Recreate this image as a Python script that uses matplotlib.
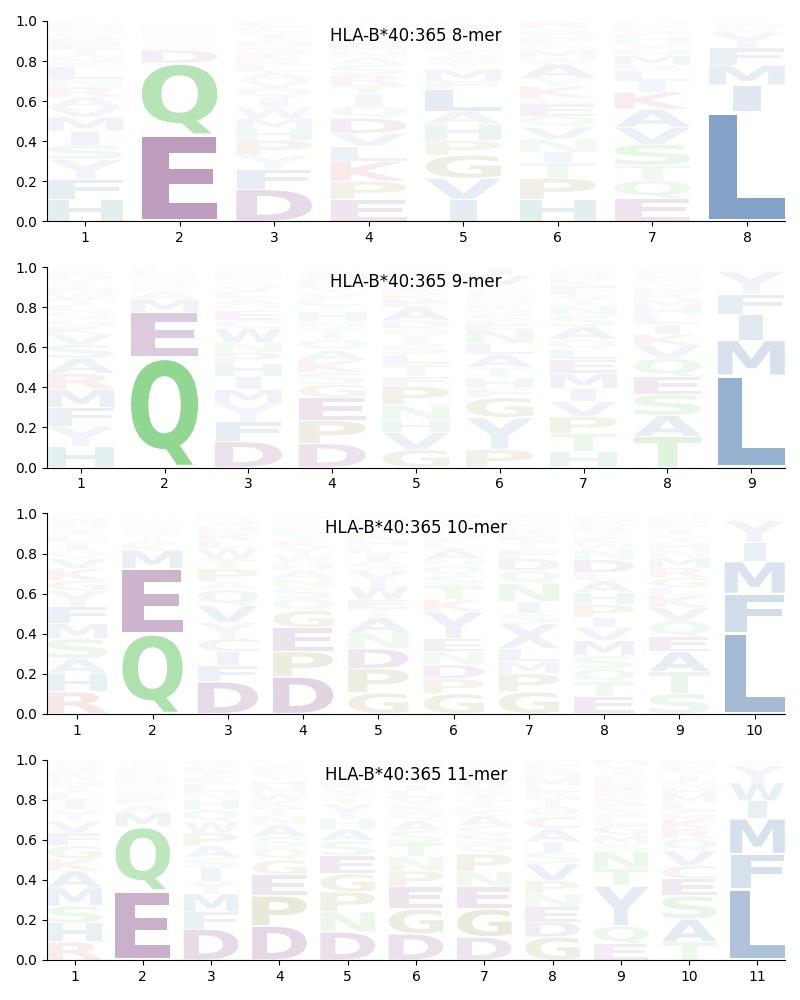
import matplotlib
matplotlib.use('Agg')
import matplotlib.pyplot as plt
from matplotlib.textpath import TextPath
from matplotlib.patches import PathPatch
from matplotlib.transforms import Affine2D
from matplotlib.font_manager import FontProperties

allele = 'HLA-B*40:365'
lengths = [8, 9, 10, 11]

# letters of each position, bottom to top, with their frequencies
mer8_letters = ['HFYSIMVARNLKGTEPWQDC', 'EQDASNTGKMPHLR', 'DFYPHMWIQVALRKSNTGEC',
                'EPKLVDQITRSANMGYFHWC', 'IVGPHALFMYSTKNEQRDWC', 'HPTINVQELKYAWMSFGDCR',
                'EQTSVAKILRMNYHFGPD', 'LIMFYVWKA']
mer8_heights = [
    [.11, .10, .10, .07, .07, .07, .05, .05, .05, .04, .06, .03, .03, .03, .03, .03, .02, .02, .02, .02],
    [.43, .36, .065, .02, .02, .02, .02, .015, .015, .01, .01, .005, .005, .005],
    [.16, .10, .07, .075, .055, .055, .055, .045, .05, .04, .04, .035, .03, .03, .03, .03, .03, .02, .02, .03],
    [.11, .09, .10, .075, .065, .075, .06, .055, .05, .05, .05, .04, .03, .03, .04, .02, .02, .02, .01, .01],
    [.11, .105, .115, .075, .08, .065, .11, .04, .06, .03, .03, .03, .02, .02, .02, .01, .02, .02, .02, .02],
    [.11, .105, .08, .05, .065, .06, .055, .06, .03, .06, .04, .07, .03, .04, .03, .03, .02, .02, .01, .035],
    [.115, .09, .075, .105, .085, .09, .085, .055, .05, .03, .05, .03, .03, .03, .02, .02, .02, .015],
    [.545, .135, .10, .085, .08, .02, .02, .01, .005],
]

mer9_letters = ['HYFMRASVKGQLTWNIPEDC', 'QEMAKSNTDHLR', 'DFYMIHPNWCEQALVSTKGR',
                'DPEGSKAQTNHILVYRFMWC', 'GVHNPFTLSIQDAEKRYMWC', 'PYGFHTALNESQKMRDWCVI',
                'HTPVIMELQASNYFKRDG', 'TASEQVKILHMRNYFGPD', 'LMIFYVW']
mer9_heights = [
    [.105, .10, .095, .09, .08, .075, .07, .05, .04, .04, .035, .03, .03, .03, .03, .025, .02, .02, .015, .015],
    [.55, .225, .065, .04, .02, .02, .02, .015, .015, .01, .01, .01],
    [.13, .10, .09, .07, .065, .065, .055, .05, .07, .04, .05, .03, .03, .03, .03, .02, .02, .02, .02, .015],
    [.12, .115, .115, .065, .06, .06, .05, .055, .05, .04, .05, .03, .03, .03, .03, .03, .02, .02, .015, .015],
    [.09, .085, .065, .075, .09, .05, .06, .05, .05, .04, .04, .04, .065, .035, .03, .03, .03, .03, .025, .02],
    [.09, .16, .10, .045, .055, .05, .065, .055, .07, .04, .035, .03, .025, .02, .02, .02, .015, .015, .05, .04],
    [.08, .09, .085, .075, .065, .075, .07, .05, .05, .065, .055, .05, .05, .045, .03, .025, .02, .02],
    [.155, .105, .105, .09, .09, .065, .055, .05, .045, .04, .04, .03, .03, .025, .02, .02, .02, .015],
    [.46, .175, .13, .10, .115, .01, .01],
]

mer10_letters = ['RHASMFYGKVQILTNWE', 'QEMKATSDNHLRY', 'DFICYVQAPTWLRHSNKG',
                 'DPEGQSNAHWYKTLIRFMV', 'GPDNATEWYSILHKRQFVMC', 'GPDNEYKTSQHALFRMVIWC',
                 'GPMLXSINQDFTERKYAHV', 'ETQSMVIPHALDNWKYRFGC', 'STAEQVKLGRMNHYIFPDW',
                 'LFMIYWV']
mer10_heights = [
    [.11, .09, .075, .10, .075, .085, .08, .05, .06, .05, .04, .04, .035, .03, .025, .03, .02],
    [.40, .325, .09, .03, .025, .02, .02, .02, .015, .015, .015, .01, .01],
    [.16, .08, .07, .065, .08, .085, .08, .04, .065, .05, .05, .04, .04, .03, .02, .02, .015, .01],
    [.185, .125, .12, .085, .06, .055, .045, .04, .04, .04, .04, .03, .03, .025, .02, .02, .015, .015, .015],
    [.105, .12, .10, .08, .075, .04, .05, .065, .08, .04, .045, .035, .03, .03, .02, .02, .02, .015, .015, .01],
    [.10, .075, .07, .065, .065, .135, .06, .07, .05, .05, .03, .05, .035, .03, .025, .025, .02, .02, .015, .01],
    [.11, .09, .06, .065, .125, .05, .06, .09, .065, .06, .045, .04, .03, .025, .02, .02, .015, .015, .015],
    [.085, .075, .065, .065, .075, .065, .05, .065, .06, .06, .04, .065, .05, .03, .03, .03, .025, .02, .03, .015],
    [.10, .11, .10, .075, .08, .065, .06, .04, .05, .05, .05, .04, .035, .035, .03, .025, .02, .015, .015],
    [.405, .195, .16, .095, .11, .02, .015],
]

mer11_letters = ['RHSMAKGFVYILTNWEQPD', 'EQMAKSTNDHLRYGFI', 'DFMYISAPWQHNLKTEVR',
                 'DPEGQSANTKWMHYLRIVF', 'DNPGESAHYTVKLIQRFMW', 'DGEPNTSAQKVLIYHRFMW',
                 'DGENPQSCAKRTYVWILHFM', 'GDENPVSIACQTRLMHKFY', 'EQYTNSMGLACKPRDFIWVH',
                 'TASECVQRKGLMHNIYFDP', 'LFMIWYVA']
mer11_heights = [
    [.09, .095, .085, .09, .085, .06, .065, .065, .06, .055, .045, .04, .035, .03, .03, .02, .02, .015, .015],
    [.345, .32, .07, .04, .03, .03, .025, .02, .02, .02, .02, .015, .015, .01, .01, .01],
    [.155, .085, .09, .065, .065, .05, .06, .065, .055, .06, .05, .04, .04, .03, .03, .025, .02, .015],
    [.17, .15, .105, .075, .06, .055, .06, .045, .04, .035, .04, .03, .03, .025, .025, .02, .015, .015, .01],
    [.14, .10, .10, .09, .09, .075, .06, .05, .075, .04, .035, .03, .025, .02, .02, .015, .015, .01, .01],
    [.13, .125, .11, .08, .07, .07, .06, .05, .045, .035, .035, .035, .03, .03, .025, .02, .02, .015, .015],
    [.115, .14, .11, .075, .09, .05, .05, .04, .05, .03, .02, .03, .04, .025, .04, .02, .02, .02, .015, .015],
    [.115, .075, .075, .065, .065, .085, .06, .05, .065, .06, .05, .045, .03, .03, .04, .025, .025, .02, .02],
    [.08, .09, .20, .085, .085, .04, .045, .05, .035, .035, .035, .03, .03, .03, .025, .025, .02, .015, .02, .025],
    [.09, .115, .115, .085, .065, .075, .06, .05, .05, .04, .04, .04, .035, .03, .03, .025, .02, .02, .015],
    [.355, .175, .175, .09, .09, .085, .015, .015],
]

all_letters = [mer8_letters, mer9_letters, mer10_letters, mer11_letters]
all_heights = [mer8_heights, mer9_heights, mer10_heights, mer11_heights]

# colour by residue group, opacity = frequency
colors = {}
for aa in 'DE':
    colors[aa] = (102/255, 26/255, 102/255)
for aa in 'QNST':
    colors[aa] = (55/255, 182/255, 55/255)
for aa in 'LIMFVAW':
    colors[aa] = (30/255, 85/255, 153/255)
for aa in 'YX':
    colors[aa] = (125/255, 150/255, 195/255)
for aa in 'KR':
    colors[aa] = (200/255, 40/255, 40/255)
for aa in 'GP':
    colors[aa] = (110/255, 110/255, 10/255)
colors['H'] = (0, 110/255, 110/255)
colors['C'] = (170/255, 60/255, 110/255)

fp = FontProperties(family='DejaVu Sans', weight='bold')
ref_w = TextPath((0, 0), 'E', size=1, prop=fp).get_extents().width


def draw_letter(ax, ch, x, y, w, h, color, alpha, vpad=0.05):
    tp = TextPath((0, 0), ch, size=1, prop=fp)
    bb = tp.get_extents()
    sx = min(w / bb.width, w / ref_w)
    sy = h * (1 - vpad) / bb.height
    tr = (Affine2D().translate(-bb.x0 - bb.width / 2, -bb.y0)
          .scale(sx, sy).translate(x, y + h * vpad / 2))
    ax.add_patch(PathPatch(tr.transform_path(tp), facecolor=color,
                           edgecolor='none', alpha=alpha))


fig, axes = plt.subplots(4, 1, figsize=(8, 10), dpi=100)
plt.subplots_adjust(left=0.059, right=0.981, top=0.979, bottom=0.04, hspace=0.229)

for ax, n, letters, heights in zip(axes, lengths, all_letters, all_heights):
    for i in range(n):
        floor = 0.0
        for ch, h in zip(letters[i], heights[i]):
            draw_letter(ax, ch, i + 1, floor, 0.8, h, colors[ch], min(h, 1.0))
            floor += h
    ax.set_xlim(0.6, n + 0.4)
    ax.set_ylim(0, 1)
    ax.set_xticks(range(1, n + 1))
    ax.set_yticks([0, 0.2, 0.4, 0.6, 0.8, 1.0])
    ax.spines['top'].set_visible(False)
    ax.spines['right'].set_visible(False)
    ax.text(0.5, 0.925, f'{allele} {n}-mer', transform=ax.transAxes,
            ha='center', va='center', fontsize=12)

plt.savefig('out.png')
